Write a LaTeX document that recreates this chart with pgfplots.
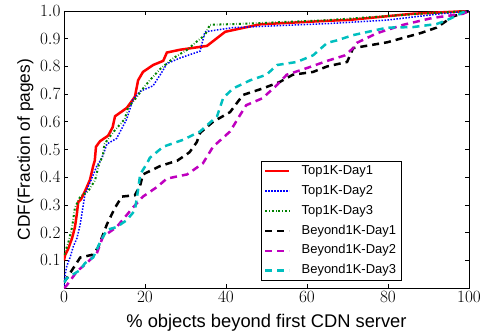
\documentclass[border=0pt]{standalone}
\usepackage{pgfplots}
\pgfplotsset{compat=1.18}
\usepackage[no-math]{fontspec}
\setmainfont{Liberation Sans}
\definecolor{mgreen}{rgb}{0,0.5,0}
\definecolor{mmag}{rgb}{0.75,0,0.75}
\definecolor{mcyan}{rgb}{0,0.75,0.75}
\begin{document}
\begin{tikzpicture}
\path[use as bounding box] (-64bp,-43bp) rectangle (421bp,288bp);
\begin{axis}[
  scale only axis,
  width=405bp, height=277bp,
  xmin=0, xmax=100, ymin=0, ymax=1,
  xtick={0,20,40,60,80,100},
  ytick={0.1,0.2,0.3,0.4,0.5,0.6,0.7,0.8,0.9,1.0},
  yticklabel style={/pgf/number format/fixed,/pgf/number format/fixed zerofill,/pgf/number format/precision=1},
  tick label style={font=\fontsize{18}{20}\selectfont},
  tick align=inside,
  major tick length=4bp,
  axis line style={line width=0.8bp},
  every tick/.style={black, line width=0.6bp},
  xlabel={\% objects beyond first CDN server},
  ylabel={CDF(Fraction of pages)},
  xlabel style={font=\fontsize{18.4}{20}\selectfont, at={(axis description cs:0.5,-0.141)}, anchor=base},
  ylabel style={font=\fontsize{17.4}{20}\selectfont, at={(axis description cs:-0.084,0.5)}, anchor=base},
  legend cell align=left,
  legend style={at={(axis description cs:0.486,0.458)}, anchor=north west,
    font=\fontsize{13}{15}\selectfont, draw=black, line width=0.8bp,
    inner xsep=3bp, inner ysep=2.5bp, row sep=5.6bp, column sep=9bp,
    nodes={inner ysep=1bp, text height=9.3bp, text depth=3bp}},
  legend image code/.code={\draw[#1] (0bp,0bp) -- (24bp,0bp);},
]
\addplot[red, line width=2.5bp] coordinates {
(0,0.10) (0.3,0.12) (1,0.14) (2,0.18) (2.7,0.22) (3.2,0.27) (3.5,0.31) (4.2,0.32) (5.2,0.35) (6.4,0.39) (7.2,0.44) (7.6,0.46) (7.9,0.51) (8.9,0.53) (10.9,0.55) (12,0.58) (12.6,0.62) (15.5,0.65) (17.5,0.69) (18.3,0.75) (19.5,0.78) (22,0.805) (24.5,0.82) (25.4,0.85) (28.6,0.86) (35.3,0.874) (39.8,0.925) (48.4,0.952) (65.7,0.965) (70.6,0.968) (86,0.99) (100,1.0)};
\addlegendentry{Top1K-Day1}
\addplot[blue, line width=1.5bp, dash pattern=on 1.5bp off 1.5bp] coordinates {
(0,0.01) (0.3,0.05) (0.7,0.08) (1.5,0.11) (2.3,0.15) (3.2,0.18) (4,0.23) (5.2,0.34) (6.4,0.38) (8.1,0.44) (9.4,0.47) (10.6,0.52) (13,0.54) (15.5,0.61) (17,0.68) (18.8,0.71) (22,0.73) (24.2,0.78) (25.4,0.81) (28.6,0.83) (33.6,0.855) (34.8,0.925) (41.7,0.94) (45,0.942) (65.7,0.955) (79.7,0.967) (93,0.99) (100,1.0)};
\addlegendentry{Top1K-Day2}
\addplot[mgreen, line width=2bp, dash pattern=on 2bp off 2bp on 0.5bp off 2bp] coordinates {
(0,0.12) (1,0.16) (2,0.22) (2.7,0.29) (4,0.33) (6,0.35) (7.7,0.39) (8.5,0.44) (9.6,0.48) (10,0.52) (12,0.56) (15,0.61) (15.8,0.65) (18,0.69) (19.5,0.72) (21.2,0.75) (23.7,0.79) (27,0.83) (30.4,0.86) (32.8,0.89) (34.8,0.913) (36,0.95) (46,0.955) (65,0.967) (88,0.99) (100,1.0)};
\addlegendentry{Top1K-Day3}
\addplot[black, line width=2.5bp, dash pattern=on 7bp off 5bp] coordinates {
(0,0.02) (2,0.065) (4,0.11) (7,0.12) (8.4,0.145) (10.6,0.23) (12.6,0.29) (14.3,0.33) (17.5,0.335) (18.8,0.37) (19.5,0.41) (23.7,0.44) (28,0.46) (31,0.49) (32.8,0.527) (33.6,0.56) (36.8,0.60) (41,0.635) (44.2,0.697) (49,0.72) (53.3,0.744) (56.5,0.77) (61.5,0.78) (65,0.80) (69.9,0.816) (71.4,0.866) (79.8,0.887) (88,0.92) (92,0.94) (96,0.98) (100,1.0)};
\addlegendentry{Beyond1K-Day1}
\addplot[mmag, line width=2.5bp, dash pattern=on 7bp off 5bp] coordinates {
(0,0.0) (0.7,0.01) (3.2,0.06) (5.6,0.09) (8.1,0.125) (9.6,0.185) (13,0.22) (17,0.29) (19.5,0.33) (23,0.365) (25.4,0.395) (30.4,0.41) (34.3,0.45) (36.8,0.51) (41,0.565) (43.5,0.625) (45,0.66) (49,0.685) (52.6,0.733) (55,0.77) (60,0.794) (65,0.82) (69.4,0.84) (71.4,0.866) (72.3,0.885) (77.3,0.92) (83.7,0.95) (91,0.975) (98.5,0.99) (100,1.0)};
\addlegendentry{Beyond1K-Day2}
\addplot[mcyan, line width=2.5bp, dash pattern=on 7bp off 5bp] coordinates {
(0,0.02) (0.7,0.035) (4,0.065) (5.2,0.09) (7.2,0.11) (8.9,0.165) (10.6,0.21) (13,0.22) (15.5,0.245) (17.5,0.28) (18.3,0.355) (18.8,0.41) (20.5,0.45) (21.2,0.47) (24.5,0.51) (29.4,0.535) (33.6,0.565) (37.8,0.62) (39.3,0.686) (41.7,0.72) (46,0.75) (50,0.77) (52.6,0.805) (57.5,0.816) (61.5,0.84) (65,0.885) (67.4,0.894) (71.4,0.913) (79.8,0.94) (86.2,0.942) (92,0.953) (94.6,0.967) (98.5,0.995) (100,1.0)};
\addlegendentry{Beyond1K-Day3}
\end{axis}
\end{tikzpicture}
\end{document}
